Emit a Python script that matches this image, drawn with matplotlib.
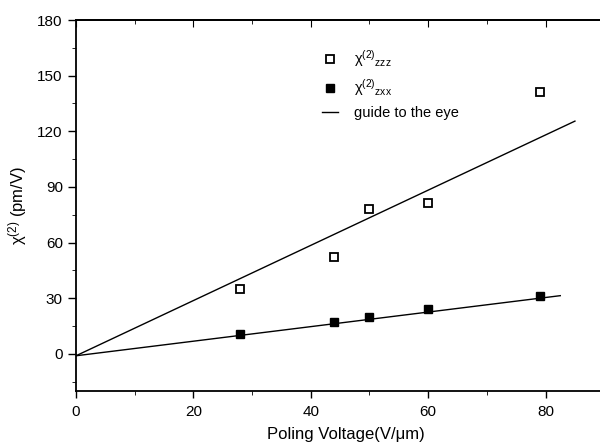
import matplotlib
matplotlib.use("Agg")
import matplotlib.pyplot as plt
from matplotlib.ticker import MultipleLocator
from matplotlib.lines import Line2D

plt.rcParams['font.family'] = ['Liberation Sans', 'DejaVu Sans']
plt.rcParams['mathtext.fontset'] = 'custom'
plt.rcParams['mathtext.rm'] = 'Liberation Sans'
plt.rcParams['mathtext.it'] = 'Liberation Sans'
plt.rcParams['mathtext.default'] = 'rm'

# measured points
voltage = [28, 44, 50, 60, 79]
chi_zzz = [35, 52, 78, 81.5, 141]
chi_zxx = [10.5, 17, 20, 24, 31]

# guide-to-the-eye lines (start / end points)
guide_zzz_x = [0, 85]
guide_zzz_y = [-1, 125.5]
guide_zxx_x = [0, 82.5]
guide_zxx_y = [-1, 31.4]

fig = plt.figure(figsize=(6, 4.48), dpi=100)
# axes runs off the right edge like the cropped original
ax = fig.add_axes([0.1267, 0.1272, 0.90, 0.8281])

ax.plot(guide_zzz_x, guide_zzz_y, color='black', lw=1.0)
ax.plot(guide_zxx_x, guide_zxx_y, color='black', lw=1.0)
ax.plot(voltage, chi_zzz, ls='none', marker='s', ms=5.5, mfc='white',
        mec='black', mew=1.3)
ax.plot(voltage, chi_zxx, ls='none', marker='s', ms=6, mfc='black',
        mec='black')

ax.set_xlim(0, 92)
ax.set_ylim(-20, 180)
ax.xaxis.set_major_locator(MultipleLocator(20))
ax.xaxis.set_minor_locator(MultipleLocator(10))
ax.yaxis.set_major_locator(MultipleLocator(30))
ax.yaxis.set_minor_locator(MultipleLocator(15))
ax.tick_params(axis='both', which='major', labelsize=11, width=1.0)
ax.tick_params(axis='x', which='major', direction='out', length=5, pad=5)
ax.tick_params(axis='x', which='minor', direction='out', length=3)
ax.tick_params(axis='y', which='major', direction='out', length=6)
ax.tick_params(axis='y', which='minor', direction='out', length=3)

# inward ticks on the top spine
top = ax.secondary_xaxis('top')
top.xaxis.set_major_locator(MultipleLocator(20))
top.xaxis.set_minor_locator(MultipleLocator(10))
top.tick_params(which='major', direction='in', length=5, labeltop=False)
top.tick_params(which='minor', direction='in', length=3)
top.spines['top'].set_linewidth(1.3)

for s in ax.spines.values():
    s.set_linewidth(1.3)

ax.set_xlabel('Poling Voltage(V/μm)', fontsize=12, labelpad=6)
ax.set_ylabel('χ$^{(2)}$ (pm/V)', fontsize=12, labelpad=6)

handles = [
    Line2D([], [], ls='none', marker='s', ms=5.5, mfc='white', mec='black', mew=1.3),
    Line2D([], [], ls='none', marker='s', ms=6, mfc='black', mec='black'),
    Line2D([], [], color='black', lw=1.0),
]
labels = ['χ$^{(2)}$$_{zzz}$', 'χ$^{(2)}$$_{zxx}$', 'guide to the eye']
ax.legend(handles, labels, loc='upper left', bbox_to_anchor=(0.445, 0.94),
          frameon=False, fontsize=10.5, handlelength=1.1, handletextpad=1.1,
          labelspacing=0.55, borderaxespad=0)

fig.savefig('out.png', dpi=100)
